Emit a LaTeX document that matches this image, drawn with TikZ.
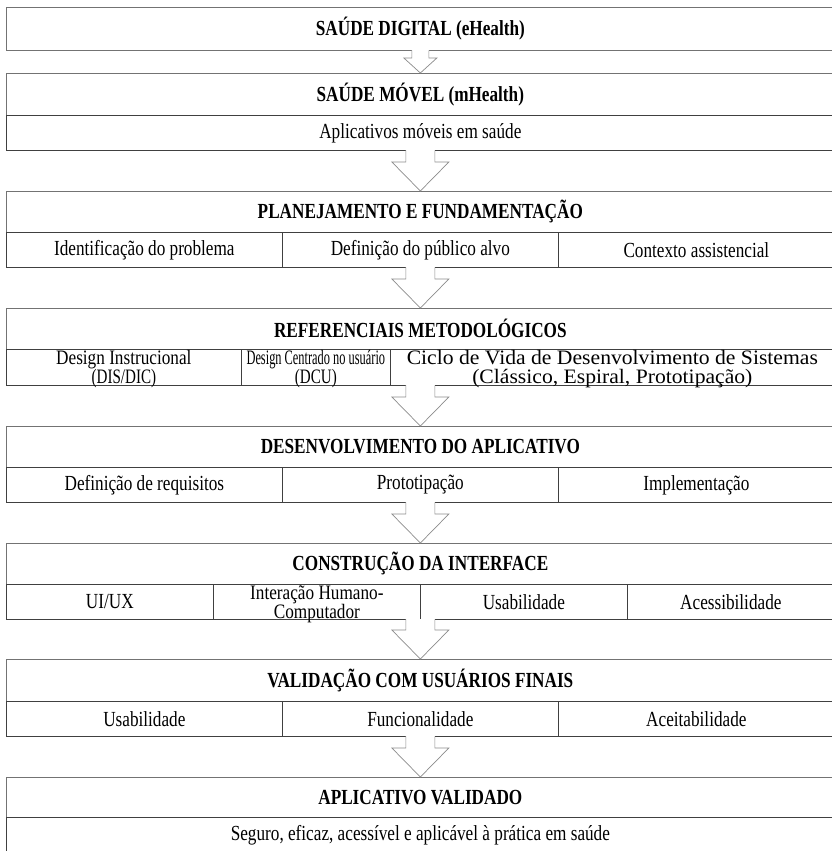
\documentclass[tikz,border=0pt]{standalone}
\usepackage{graphicx}
\usepackage{fontspec}
\setmainfont{Liberation Serif}[FakeStretch=0.8]
\usetikzlibrary{calc,backgrounds}

\definecolor{hdrline}{gray}{0.45}
\definecolor{cellline}{gray}{0.25}
\definecolor{arrowline}{gray}{0.55}

\newcommand\hdrfont{\fontsize{21.5}{17}\selectfont\bfseries}
\newcommand\cellfont{\fontsize{21.5}{17.5}\selectfont}
\newcommand\twofont{\fontsize{20.5}{19}\selectfont\lineskiplimit=-30pt\lineskip=0pt}

\tikzset{
  hdr/.style={draw=hdrline, line width=0.7pt, fill=white, anchor=north west,
    inner sep=0pt, minimum width=828pt, minimum height=#1, font=\hdrfont},
  cell/.style 2 args={draw=cellline, line width=0.7pt, fill=white, anchor=north west,
    inner sep=0pt, align=center, minimum width=#1, minimum height=#2, font=\cellfont},
  % two-line cells: box measured from the baseline of the last line
  twoline/.style={font=\twofont, text height=33pt, text depth=0.4pt},
  boxshadow/.style={fill=black, opacity=0.14},
}

% Block arrow from the bottom of one box to the top of the next.
% #1 source, #2 target, #3 shaft half width, #4 head half width, #5 head length
\newcommand\flowarrow[5]{%
  \fill[white] let \p1=(#1.south), \p2=(#2.north) in
    (\x2-#3,\y1+0.6pt) -- (\x2-#3,\y2+#5) -- (\x2-#4,\y2+#5) -- (\x2,\y2)
    -- (\x2+#4,\y2+#5) -- (\x2+#3,\y2+#5) -- (\x2+#3,\y1+0.6pt) -- cycle;
  \draw[arrowline, line width=0.7pt, line join=miter] let \p1=(#1.south), \p2=(#2.north) in
    (\x2-#3,\y1+0.4pt) -- (\x2-#3,\y2+#5) -- (\x2-#4,\y2+#5) -- (\x2,\y2)
    -- (\x2+#4,\y2+#5) -- (\x2+#3,\y2+#5) -- (\x2+#3,\y1+0.4pt);
}

% Soft shadow below and left of a box group
\newcommand\groupshadow[2]{%
  \foreach \d in {1,2,3}{
    \fill[boxshadow] ($(#1.north west)+(-0.5*\d pt,-0.5*\d pt+2pt)$)
      rectangle ($(#2.south east)+(0pt,-0.9*\d pt)$);
  }
}

% Horizontally scaled line of text
\newcommand\wide[2]{\scalebox{#1}[1]{#2}}

\begin{document}
\begin{tikzpicture}[x=1pt, y=-1pt]
  \path[use as bounding box] (0,0) rectangle (832,851);
  \clip (0,0) rectangle (832,851);
  \fill[white] (0,0) rectangle (832,851);

  % Saude digital
  \node[hdr=43pt] (h1) at (6,7) {SAÚDE DIGITAL (eHealth)};

  % Saude movel
  \node[hdr=42pt] (h2) at (6,73) {SAÚDE MÓVEL (mHealth)};
  \node[cell={828pt}{35pt}] (r2) at (6,115) {Aplicativos móveis em saúde};

  % Planejamento
  \node[hdr=41pt] (h3) at (6,191) {PLANEJAMENTO E FUNDAMENTAÇÃO};
  \node[cell={276pt}{35pt}] (c3a) at (6,232) {Identificação do problema};
  \node[cell={276pt}{35pt}] (c3b) at (282,232) {Definição do público alvo};
  \node[cell={276pt}{35pt}] (c3c) at (558,232) {Contexto assistencial};

  % Referenciais
  \node[hdr=41pt] (h4) at (6,308) {REFERENCIAIS METODOLÓGICOS};
  \node[cell={235pt}{36pt}, twoline] (c4a) at (6,349)
    {\wide{1.05}{Design Instrucional}\\\wide{0.92}{(DIS/DIC)}};
  \node[cell={149pt}{36pt}, twoline] (c4b) at (241,349)
    {\wide{0.755}{Design Centrado no usuário}\\\wide{0.92}{(DCU)}};
  \node[cell={444pt}{36pt}, twoline] (c4c) at (390,349)
    {\wide{1.32}{Ciclo de Vida de Desenvolvimento de Sistemas}\\\wide{1.32}{(Clássico, Espiral, Prototipação)}};

  % Desenvolvimento
  \node[hdr=41pt] (h5) at (6,426) {DESENVOLVIMENTO DO APLICATIVO};
  \node[cell={276pt}{35pt}] (c5a) at (6,467) {Definição de requisitos};
  \node[cell={276pt}{35pt}] (c5b) at (282,467) {Prototipação};
  \node[cell={276pt}{35pt}] (c5c) at (558,467) {Implementação};

  % Interface
  \node[hdr=41pt] (h6) at (6,543) {CONSTRUÇÃO DA INTERFACE};
  \node[cell={207pt}{35pt}] (c6a) at (6,584) {UI/UX};
  \node[cell={207pt}{35pt}, twoline] (c6b) at (213,584)
    {\wide{1.05}{Interação Humano-}\\\wide{1.05}{Computador}};
  \node[cell={207pt}{35pt}] (c6c) at (420,584) {Usabilidade};
  \node[cell={207pt}{35pt}] (c6d) at (627,584) {Acessibilidade};

  % Validacao
  \node[hdr=42pt] (h7) at (6,659) {VALIDAÇÃO COM USUÁRIOS FINAIS};
  \node[cell={276pt}{35pt}] (c7a) at (6,701) {Usabilidade};
  \node[cell={276pt}{35pt}] (c7b) at (282,701) {Funcionalidade};
  \node[cell={276pt}{35pt}] (c7c) at (558,701) {Aceitabilidade};

  % Aplicativo validado
  \node[hdr=40pt] (h8) at (6,777) {APLICATIVO VALIDADO};
  \node[cell={828pt}{35pt}] (r8) at (6,817) {Seguro, eficaz, acessível e aplicável à prática em saúde};

  \begin{scope}[on background layer]
    \groupshadow{h1}{h1}
    \groupshadow{h2}{r2}
    \groupshadow{h3}{c3c}
    \groupshadow{h4}{c4c}
    \groupshadow{h5}{c5c}
    \groupshadow{h6}{c6d}
    \groupshadow{h7}{c7c}
    \groupshadow{h8}{r8}
  \end{scope}

  % Flow arrows
  \flowarrow{h1}{h2}{8.5pt}{16.5pt}{15pt}
  \flowarrow{r2}{h3}{14.5pt}{28.5pt}{29pt}
  \flowarrow{c3b}{h4}{14.5pt}{28.5pt}{29pt}
  \flowarrow{c4b}{h5}{14.5pt}{28.5pt}{29pt}
  \flowarrow{c5b}{h6}{14.5pt}{28.5pt}{29pt}
  \flowarrow{c6b}{h7}{14.5pt}{28.5pt}{29pt}
  \flowarrow{c7b}{h8}{14.5pt}{28.5pt}{29pt}
\end{tikzpicture}
\end{document}
